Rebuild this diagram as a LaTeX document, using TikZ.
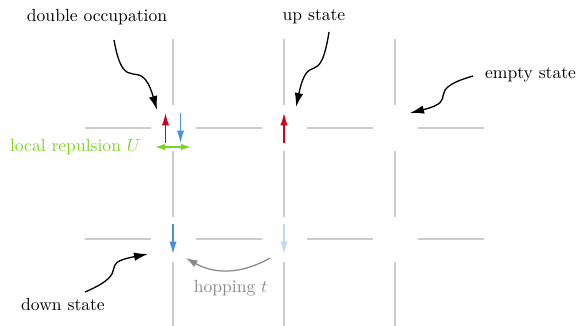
\documentclass[tikz,border=0pt]{standalone}
\usepackage{xcolor}
\usepackage{amsmath}
\usepackage{tikz}
\usetikzlibrary{arrows.meta,calc,positioning}
\definecolor{spinRed}{HTML}{D0021B}
\definecolor{spinBlue}{HTML}{4A90E2}
\definecolor{repGreen}{HTML}{7ED321}
\definecolor{latGray}{HTML}{CCCCCC}
\definecolor{hopGray}{HTML}{888888}

\begin{document}
\begin{tikzpicture}[every node/.style={font=\normalsize},
  latLine/.style={draw=latGray,line width=1.1pt},
  spin/.style={-{Latex[length=2.5mm,width=1.5mm]},line width=0.8pt},
  note/.style={-{Latex[length=2.8mm,width=1.7mm]},line width=0.75pt,looseness=1.9}]
\useasboundingbox (0,0) rectangle (11.56,-6.5);
% lattice sites
\foreach \i in {0,1,2} \foreach \j in {0,1}
  \coordinate (s\i\j) at (3.46+2.22*\i,-2.56-2.22*\j);
\foreach \k in {-1,0,1,2} \foreach \j in {0,1}
  \draw[latLine] ({3.46+2.22*\k+0.45},{-2.56-2.22*\j}) -- ++(1.32,0);
\foreach \k in {-1,0,1} \foreach \i in {0,1,2}
  \draw[latLine] ({3.46+2.22*\i},{-2.56-2.22*\k-0.45}) -- ++(0,-1.32);
% spins
\draw[spin,spinRed] ($(s00)+(-0.15,-0.3)$) -- ++(0,0.6);
\draw[spin,spinBlue] ($(s00)+(0.15,0.3)$) -- ++(0,-0.6);
\draw[spin,spinRed] ($(s10)+(0,-0.3)$) -- ++(0,0.6);
\draw[spin,spinBlue] ($(s01)+(0,0.3)$) -- ++(0,-0.6);
\draw[spin,spinBlue!35] ($(s11)+(0,0.3)$) -- ++(0,-0.6);
% repulsion
\coordinate (uL) at ($(s00)+(-0.36,-0.38)$);
\coordinate (uR) at ($(s00)+(0.36,-0.38)$);
\draw[{Latex[length=2mm,width=1.3mm]}-{Latex[length=2mm,width=1.3mm]},repGreen,line width=0.8pt] (uL) -- (uR);
\node[repGreen,left=0.16 of uL] (rep) {local repulsion $U$};
% hopping
\coordinate (hopA) at ($(s11)+(-0.28,-0.38)$);
\coordinate (hopB) at ($(s01)+(0.26,-0.38)$);
\draw[-{Latex[length=2.3mm,width=1.5mm]},hopGray,line width=0.7pt] (hopA) to[bend left=30] node[below=2pt,xshift=1.5pt] (hop) {hopping $t$} (hopB);
% annotations
\node (dbl) at (1.94,-0.34) {double occupation};
\node (up) at (6.28,-0.34) {up state};
\node (emp) at (10.61,-1.5) {empty state};
\node (dwn) at (1.26,-6.08) {down state};
\coordinate (dblTail) at (2.28,-0.80);
\coordinate (dblHead) at (3.14,-2.20);
\coordinate (upTail) at (6.58,-0.64);
\coordinate (upHead) at (5.92,-2.14);
\coordinate (empTail) at (9.46,-1.52);
\coordinate (empHead) at (8.20,-2.26);
\coordinate (dwnTail) at (1.70,-5.84);
\coordinate (dwnHead) at (2.96,-5.08);
\draw[note] (dblTail) to[out=-80,in=106] (dblHead);
\draw[note] (upTail) to[out=-99,in=78] (upHead);
\draw[note] (empTail) to[out=196,in=14] (empHead);
\draw[note] (dwnTail) to[out=23,in=191] (dwnHead);
\end{tikzpicture}
\end{document}
